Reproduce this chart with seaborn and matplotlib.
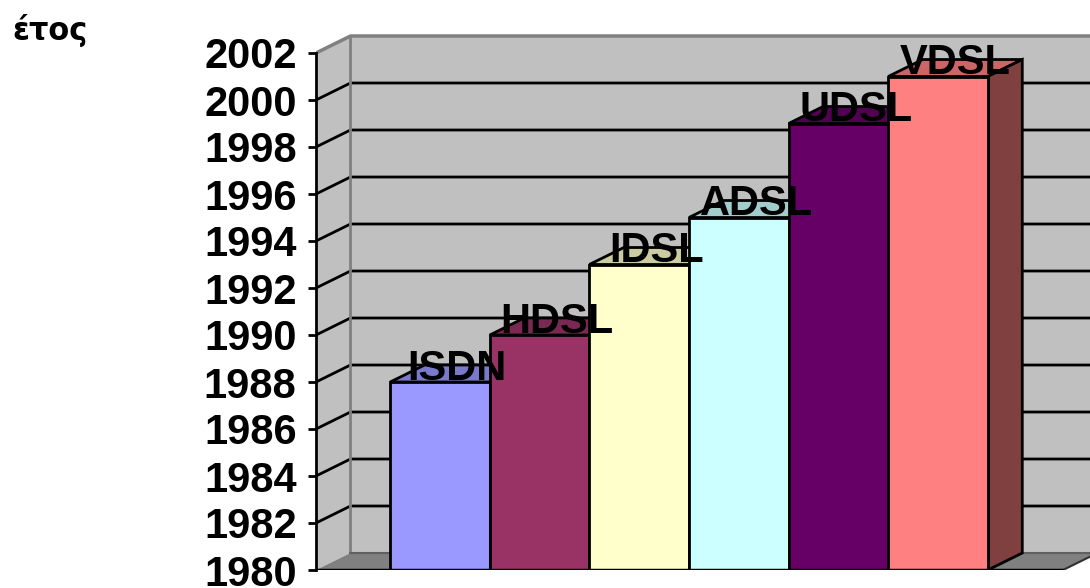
import matplotlib
matplotlib.use("Agg")
import matplotlib.pyplot as plt
import seaborn as sns
from matplotlib.patches import Polygon
from matplotlib.colors import to_rgb

# Chart data
technologies = ["ISDN", "HDSL", "IDSL", "ADSL", "UDSL", "VDSL"]
years = [1988, 1990, 1993, 1995, 1999, 2001]
bar_colors = ["#9999FF", "#993366", "#FFFFCC", "#CCFFFF", "#660066", "#FF8080"]
year_ticks = list(range(1980, 2003, 2))
axis_title = "έτος"

sns.set_theme(style="white")
plt.rcParams["font.family"] = ["Liberation Sans", "DejaVu Sans"]

fig = plt.figure(figsize=(10.9, 5.88), dpi=100)
ax = fig.add_axes([316 / 1090, 18 / 588, 774 / 1090, 540 / 588])
ax.set_facecolor("none")

BASE, TOP = year_ticks[0], year_ticks[-1]
XL, XR = -1.245, 6.526          # axes x-limits in category units
XF = 6.255                      # right end of the front floor edge
DX, DY = 0.346, 0.723           # depth offset (category units, years)

WALL = "#C0C0C0"
FLOOR = "#808080"
EDGE = "#808080"

# Front faces of the bars
sns.barplot(x=technologies, y=years, hue=technologies, palette=bar_colors, width=1.0,
            edgecolor="black", linewidth=2, legend=False, saturation=1, ax=ax, zorder=5)

ax.set_xlim(XL, XR)
ax.set_ylim(BASE, BASE + 540 / 23.5)

# Back wall, side wall and floor
ax.add_patch(Polygon([(XL + DX, BASE + DY), (XL + DX, TOP + DY), (XR + 1, TOP + DY), (XR + 1, BASE + DY)],
                     closed=True, fc=WALL, ec="none", zorder=0.5))
ax.add_patch(Polygon([(XL, BASE), (XL + DX, BASE + DY), (XL + DX, TOP + DY), (XL, TOP)],
                     closed=True, fc=WALL, ec="none", zorder=0.5))
ax.add_patch(Polygon([(XL, BASE), (XL + DX, BASE + DY), (XF + DX, BASE + DY), (XF, BASE)],
                     closed=True, fc=FLOOR, ec="none", zorder=0.6))

# Gridlines across the side wall and back wall
for t in year_ticks[1:-1]:
    ax.plot([XL, XL + DX, XR + 1], [t, t + DY, t + DY], color="black", lw=2, zorder=1,
            solid_capstyle="butt")

# Wall edges
ax.plot([XL, XL + DX, XR + 1], [TOP, TOP + DY, TOP + DY], color=EDGE, lw=2.5, zorder=1.2)
ax.plot([XL + DX, XL + DX], [BASE + DY, TOP + DY], color=EDGE, lw=2, zorder=1.2)
ax.plot([XL + DX, XR + 1], [BASE + DY, BASE + DY], color="#606060", lw=1.5, zorder=1.2)
ax.plot([XF, XF + DX], [BASE, BASE + DY], color="#303030", lw=1.5, zorder=1.2)


def shade(color, f):
    r, g, b = to_rgb(color)
    return (r * f, g * f, b * f)


bars = [bar for container in ax.containers for bar in container]
bars.sort(key=lambda b: b.get_x())

for patch, name, color in zip(bars, technologies, bar_colors):
    value = patch.get_height()
    x0 = patch.get_x()
    x1 = x0 + patch.get_width()
    patch.set_y(BASE)
    patch.set_height(value - BASE)
    # top face
    ax.add_patch(Polygon([(x0, value), (x0 + DX, value + DY), (x1 + DX, value + DY), (x1, value)],
                         closed=True, fc=shade(color, 0.8), ec="black", lw=2, zorder=4))
    # right side face
    ax.add_patch(Polygon([(x1, BASE), (x1 + DX, BASE + DY), (x1 + DX, value + DY), (x1, value)],
                         closed=True, fc=shade(color, 0.5), ec="black", lw=2, zorder=4))
    ax.text((x0 + x1) / 2 + DX / 2, value + 0.1, name, ha="center", va="baseline",
            fontsize=30, fontweight="bold", color="black", zorder=10)

# Front floor edge
ax.plot([XL, XF], [BASE, BASE], color="black", lw=2.5, zorder=6, solid_capstyle="butt")

# Axes styling
ax.set_xticks([])
ax.set_xlabel("")
ax.set_ylabel("")
ax.set_yticks(year_ticks, labels=[str(t) for t in year_ticks], fontsize=30, fontweight="bold")
ax.tick_params(axis="y", left=True, direction="out", length=6, width=2, pad=8,
               colors="black", labelcolor="black")
for side in ("top", "right", "bottom"):
    ax.spines[side].set_visible(False)
ax.spines["left"].set_bounds(BASE, TOP)
ax.spines["left"].set_linewidth(2)
ax.spines["left"].set_color("black")
ax.spines["left"].set_zorder(7)

fig.text(12 / 1090, 1 - 40 / 588, axis_title, fontsize=22, fontweight="bold", color="black",
         family=["DejaVu Sans"], ha="left", va="baseline")

fig.savefig("out.png", dpi=100, facecolor="white")
